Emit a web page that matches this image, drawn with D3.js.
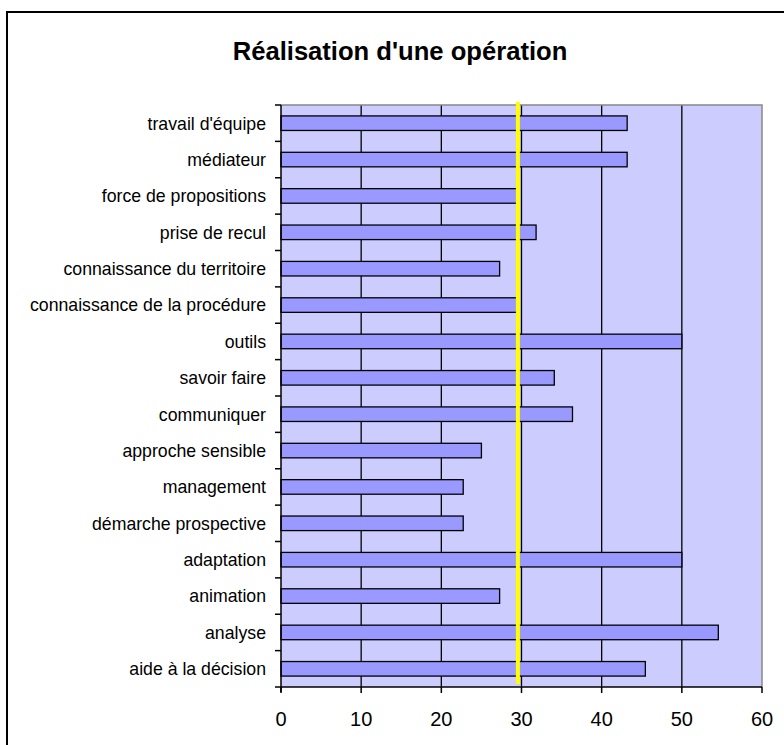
<!DOCTYPE html>
<html>
<head>
<meta charset="utf-8">
<script src="https://cdn.jsdelivr.net/npm/d3@7"></script>
<style>
  html, body { margin: 0; padding: 0; background: #fff; overflow: hidden; }
  svg { display: block; font-family: Arial, "Liberation Sans", sans-serif; }
</style>
</head>
<body>
<svg id="chart" width="784" height="745"></svg>
<script>
const title = "Réalisation d'une opération";
const categories = [
  "travail d'équipe",
  "médiateur",
  "force de propositions",
  "prise de recul",
  "connaissance du territoire",
  "connaissance de la procédure",
  "outils",
  "savoir faire",
  "communiquer",
  "approche sensible",
  "management",
  "démarche prospective",
  "adaptation",
  "animation",
  "analyse",
  "aide à la décision"
];
const values = [43.18, 43.18, 29.55, 31.82, 27.27, 29.55, 50.0, 34.09, 36.36, 25.0, 22.73, 22.73, 50.0, 27.27, 54.55, 45.45];
const referenceValue = 29.55;
const xTicks = [0, 10, 20, 30, 40, 50, 60];

const svg = d3.select("#chart");
const plot = { left: 281, right: 762, top: 105, bottom: 687 };

// outer frame
svg.append("rect")
  .attr("x", 7).attr("y", 12)
  .attr("width", 820).attr("height", 800)
  .attr("fill", "#fff").attr("stroke", "#000").attr("stroke-width", 2);

svg.append("text")
  .attr("x", 400).attr("y", 60)
  .attr("text-anchor", "middle")
  .attr("font-size", 25.6).attr("font-weight", "bold")
  .attr("fill", "#000")
  .text(title);

const x = d3.scaleLinear().domain([0, 60]).range([plot.left, plot.right]);
const y = d3.scaleBand().domain(categories).range([plot.top, plot.bottom])
  .paddingInner(0.6).paddingOuter(0.3);

// plot background
svg.append("rect")
  .attr("x", plot.left).attr("y", plot.top)
  .attr("width", plot.right - plot.left).attr("height", plot.bottom - plot.top)
  .attr("fill", "#CCCCFF");

// grid lines
svg.append("g").selectAll("line")
  .data(xTicks.filter(t => t > 0 && t < 60))
  .join("line")
  .attr("x1", d => x(d)).attr("x2", d => x(d))
  .attr("y1", plot.top).attr("y2", plot.bottom)
  .attr("stroke", "#000").attr("stroke-width", 1.3);

// grey top/right border
svg.append("path")
  .attr("d", `M${plot.left},${plot.top}H${plot.right}V${plot.bottom}`)
  .attr("fill", "none").attr("stroke", "#888").attr("stroke-width", 1.5);

// bars
svg.append("g").selectAll("rect")
  .data(categories)
  .join("rect")
  .attr("x", x(0))
  .attr("y", d => y(d))
  .attr("width", (d, i) => x(values[i]) - x(0))
  .attr("height", y.bandwidth())
  .attr("fill", "#9999FF")
  .attr("stroke", "#000").attr("stroke-width", 1.3);

// reference line
svg.append("line")
  .attr("x1", x(referenceValue)).attr("x2", x(referenceValue))
  .attr("y1", plot.top - 3).attr("y2", plot.bottom - 3)
  .attr("stroke", "#FFFF00").attr("stroke-width", 4);

// y axis
const yAxis = svg.append("g").attr("transform", `translate(${plot.left},0)`);
yAxis.append("line")
  .attr("x1", 0).attr("x2", 0).attr("y1", plot.top).attr("y2", plot.bottom + 5)
  .attr("stroke", "#000").attr("stroke-width", 1.5);
yAxis.selectAll("line.tk")
  .data(d3.range(categories.length + 1))
  .join("line").attr("class", "tk")
  .attr("x1", -6).attr("x2", 0)
  .attr("y1", i => plot.top + i * y.step())
  .attr("y2", i => plot.top + i * y.step())
  .attr("stroke", "#000").attr("stroke-width", 1.5);
yAxis.selectAll("text")
  .data(categories)
  .join("text")
  .attr("x", -15)
  .attr("y", d => y(d) + y.bandwidth() / 2)
  .attr("dy", "0.36em")
  .attr("text-anchor", "end")
  .attr("font-size", 17.7)
  .attr("fill", "#000")
  .text(d => d);

// x axis
const xAxis = svg.append("g").attr("transform", `translate(0,${plot.bottom})`);
xAxis.append("line")
  .attr("x1", plot.left).attr("x2", plot.right)
  .attr("stroke", "#000").attr("stroke-width", 1.5);
xAxis.selectAll("line.tk")
  .data(xTicks).join("line").attr("class", "tk")
  .attr("x1", d => x(d)).attr("x2", d => x(d))
  .attr("y1", 0).attr("y2", 6)
  .attr("stroke", "#000").attr("stroke-width", 1.5);
xAxis.selectAll("text")
  .data(xTicks).join("text")
  .attr("x", d => x(d)).attr("y", 39)
  .attr("text-anchor", "middle")
  .attr("font-size", 20)
  .attr("fill", "#000")
  .text(d => d);
</script>
</body>
</html>
